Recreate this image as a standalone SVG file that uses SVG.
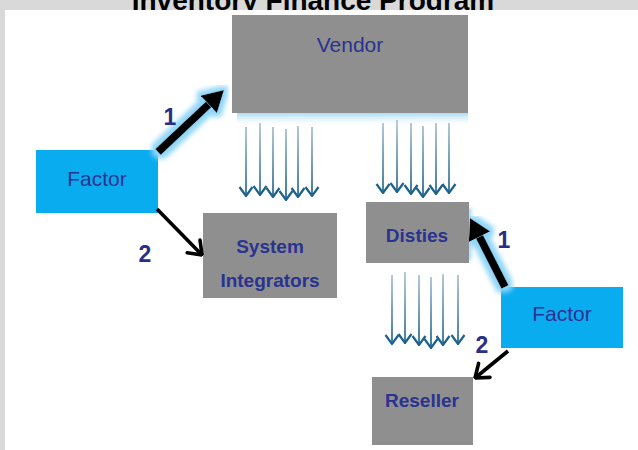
<svg xmlns="http://www.w3.org/2000/svg" width="638" height="450" viewBox="0 0 638 450">
  <style>
    .box { fill: #8f8f8f; }
    .factor { fill: #0aacf0; }
    .lbl { font-family: "Liberation Sans", Arial, sans-serif; fill: #2a3390; text-anchor: middle; }
    .reg { font-size: 21px; }
    .bold { font-size: 19px; font-weight: bold; }
    .num { font-size: 23px; font-weight: bold; fill: #2a2f86; }
    .flow { stroke-width: 1.8; fill: none; }
    .thin { stroke: #000; stroke-width: 3.6; fill: none; }
    .thick { stroke: #000; stroke-width: 8; fill: none; }
  </style>
  <defs>
    <linearGradient id="g1" gradientUnits="userSpaceOnUse" x1="0" y1="122" x2="0" y2="200">
      <stop offset="0" stop-color="#b4c8d4"/>
      <stop offset="1" stop-color="#22678f"/>
    </linearGradient>
    <linearGradient id="g2" gradientUnits="userSpaceOnUse" x1="0" y1="119" x2="0" y2="197">
      <stop offset="0" stop-color="#b4c8d4"/>
      <stop offset="1" stop-color="#22678f"/>
    </linearGradient>
    <linearGradient id="g3" gradientUnits="userSpaceOnUse" x1="0" y1="271" x2="0" y2="348">
      <stop offset="0" stop-color="#b4c8d4"/>
      <stop offset="1" stop-color="#22678f"/>
    </linearGradient>
    <linearGradient id="vglow" x1="0" y1="0" x2="0" y2="1">
      <stop offset="0" stop-color="#a8dcf7"/>
      <stop offset="1" stop-color="#ffffff" stop-opacity="0"/>
    </linearGradient>
    <marker id="vhead" viewBox="-10 -8 11 16" markerUnits="userSpaceOnUse" markerWidth="11" markerHeight="16" refX="0" refY="0" orient="auto">
      <path d="M-9,-6.5 L0,0 L-9,6.5" fill="none" stroke="#1c628b" stroke-width="2.2"/>
    </marker>
    <marker id="openhead" viewBox="-15 -12 16 24" markerUnits="userSpaceOnUse" markerWidth="16" markerHeight="24" refX="0" refY="0" orient="auto">
      <path d="M-12,-9 L0,0 L-12,9" fill="none" stroke="#000" stroke-width="3.6" stroke-linejoin="round" stroke-linecap="round"/>
    </marker>
    <marker id="solidhead" viewBox="0 -12 21 24" markerUnits="userSpaceOnUse" markerWidth="21" markerHeight="24" refX="0" refY="0" orient="auto">
      <path d="M0,-12 L21,0 L0,12 Z" fill="#000"/>
    </marker>
    <filter id="glow" x="-40%" y="-40%" width="180%" height="180%">
      <feMorphology in="SourceAlpha" operator="dilate" radius="4" result="fat"/>
      <feFlood flood-color="#8fd5f7"/>
      <feComposite in2="fat" operator="in" result="halo"/>
      <feGaussianBlur in="halo" stdDeviation="2.5" result="soft"/>
      <feMerge>
        <feMergeNode in="soft"/>
        <feMergeNode in="SourceGraphic"/>
      </feMerge>
    </filter>
    <filter id="blur3" x="-50%" y="-20%" width="200%" height="140%">
      <feGaussianBlur stdDeviation="2"/>
    </filter>
  </defs>

  <!-- frame and title -->
  <rect x="0" y="0" width="638" height="450" fill="#d9d9d9"/>
  <text x="313" y="9.5" font-family="Liberation Sans, Arial, sans-serif" font-size="28" font-weight="bold" text-anchor="middle" fill="#000">Inventory Finance Program</text>
  <rect x="5" y="10" width="633" height="440" fill="#ffffff"/>

  <!-- soft highlights -->
  <rect x="237" y="113" width="231" height="14" fill="url(#vglow)"/>
  <rect x="466" y="208" width="5" height="52" fill="#8fd5f7" filter="url(#blur3)"/>

  <g id="vendor">
    <rect class="box" x="232" y="15" width="236" height="98"/>
    <text class="lbl reg" x="350" y="52">Vendor</text>
  </g>
  <g id="factor-left">
    <rect class="factor" x="36" y="150" width="122" height="63"/>
    <text class="lbl reg" x="97" y="186">Factor</text>
  </g>
  <g id="system-integrators">
    <rect class="box" x="203" y="213" width="134" height="85"/>
    <text class="lbl bold" x="270" y="253">System</text>
    <text class="lbl bold" x="270" y="287">Integrators</text>
  </g>
  <g id="disties">
    <rect class="box" x="366" y="202" width="103" height="61"/>
    <text class="lbl bold" x="417" y="242">Disties</text>
  </g>
  <g id="factor-right">
    <rect class="factor" x="501" y="287" width="122" height="61"/>
    <text class="lbl reg" x="562" y="321">Factor</text>
  </g>
  <g id="reseller">
    <rect class="box" x="372" y="377" width="101" height="68"/>
    <text class="lbl bold" x="422" y="407">Reseller</text>
  </g>

  <g id="connectors">
    <!-- goods flow, vendor to system integrators -->
    <g stroke="url(#g1)" class="flow" marker-end="url(#vhead)">
      <line x1="246" y1="127" x2="246" y2="196"/>
      <line x1="260" y1="123" x2="260" y2="195"/>
      <line x1="273" y1="127" x2="273" y2="197"/>
      <line x1="286" y1="129" x2="286" y2="200"/>
      <line x1="298" y1="126" x2="298" y2="197"/>
      <line x1="312" y1="127" x2="312" y2="196"/>
    </g>
    <!-- goods flow, vendor to disties -->
    <g stroke="url(#g2)" class="flow" marker-end="url(#vhead)">
      <line x1="383" y1="123" x2="383" y2="193"/>
      <line x1="397" y1="120" x2="397" y2="192"/>
      <line x1="411" y1="123" x2="411" y2="194"/>
      <line x1="423" y1="126" x2="423" y2="197"/>
      <line x1="436" y1="123" x2="436" y2="194"/>
      <line x1="449" y1="123" x2="449" y2="193"/>
    </g>
    <!-- goods flow, disties to reseller -->
    <g stroke="url(#g3)" class="flow" marker-end="url(#vhead)">
      <line x1="392" y1="275" x2="392" y2="344"/>
      <line x1="405" y1="272" x2="405" y2="343"/>
      <line x1="419" y1="275" x2="419" y2="345"/>
      <line x1="431" y1="277" x2="431" y2="348"/>
      <line x1="443" y1="274" x2="443" y2="345"/>
      <line x1="458" y1="275" x2="458" y2="344"/>
    </g>

    <!-- step 1: factor pays -->
    <g filter="url(#glow)">
      <line class="thick" x1="158" y1="152" x2="208.7" y2="104.4" marker-end="url(#solidhead)"/>
    </g>
    <g filter="url(#glow)">
      <line class="thick" x1="505" y1="287" x2="479.5" y2="236.7" marker-end="url(#solidhead)"/>
    </g>

    <!-- step 2: factor finances buyer -->
    <line class="thin" x1="157" y1="209" x2="202" y2="255" marker-end="url(#openhead)"/>
    <line class="thin" x1="508" y1="351" x2="475" y2="378" marker-end="url(#openhead)"/>

    <text class="lbl num" x="170" y="125">1</text>
    <text class="lbl num" x="145" y="262">2</text>
    <text class="lbl num" x="504" y="248">1</text>
    <text class="lbl num" x="482" y="353">2</text>
  </g>
</svg>
